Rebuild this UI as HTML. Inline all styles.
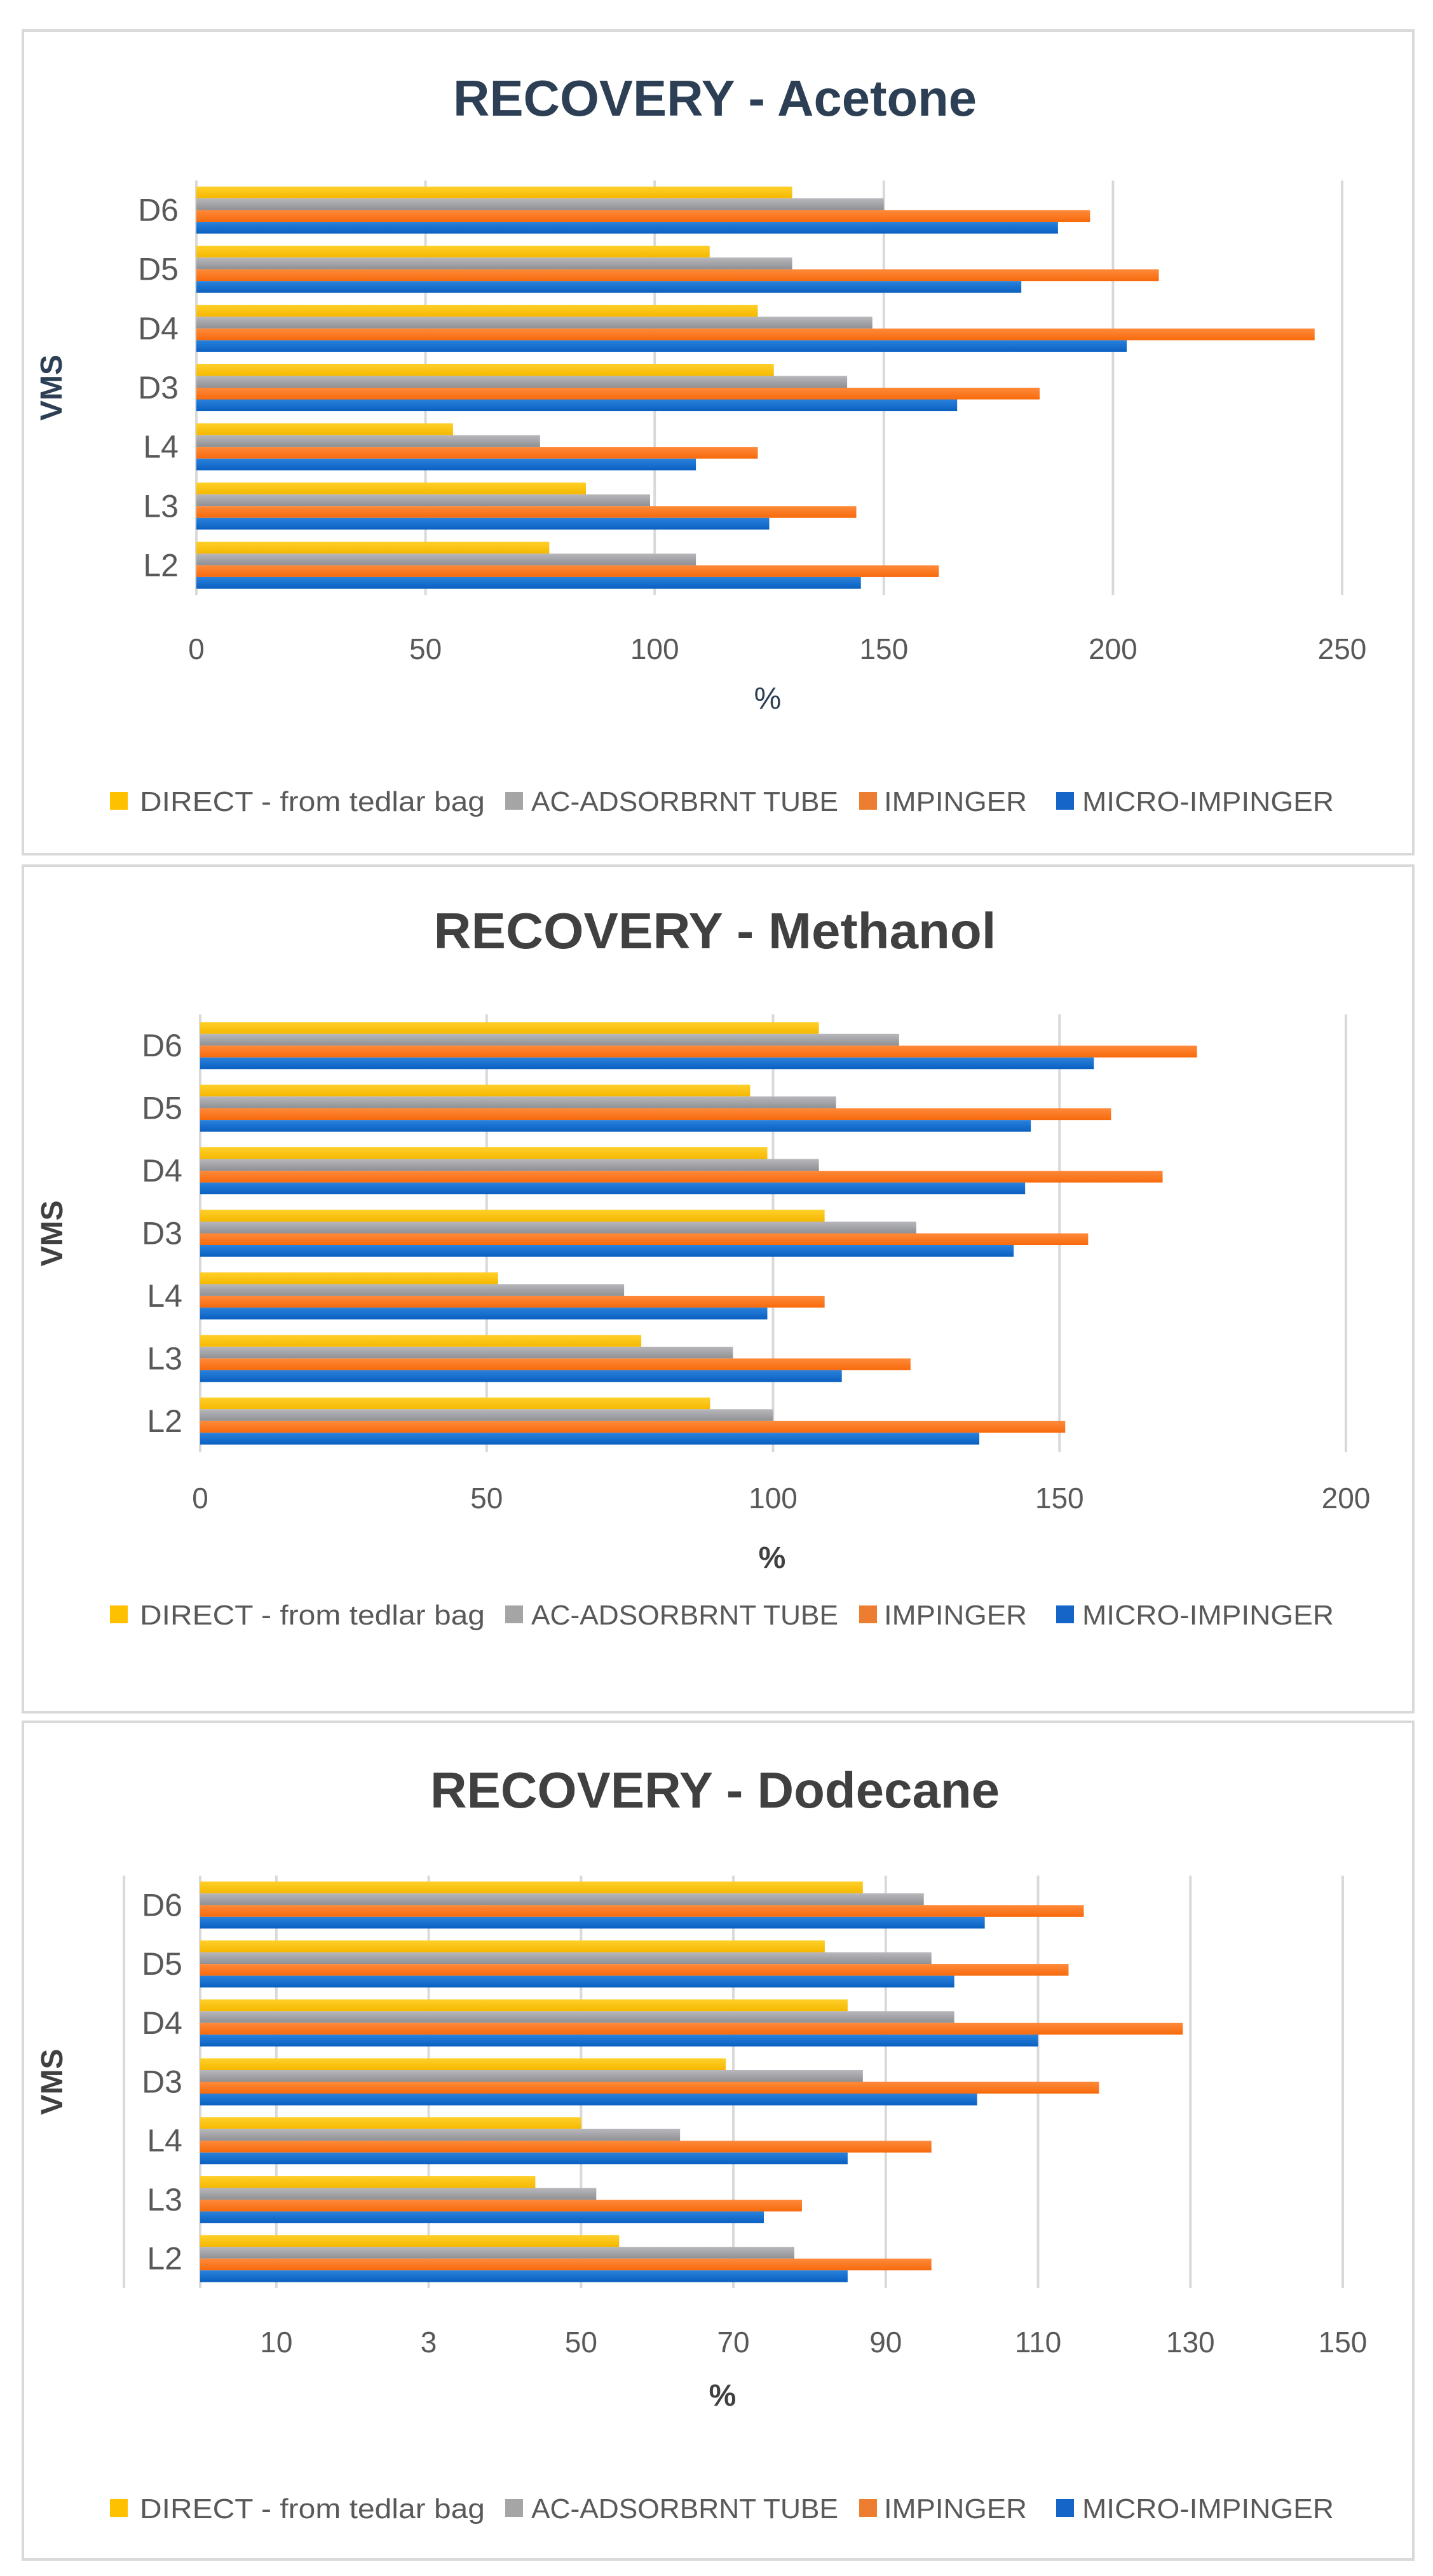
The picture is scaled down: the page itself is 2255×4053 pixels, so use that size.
<!DOCTYPE html>
<html><head><meta charset="utf-8"><style>
html,body{margin:0;padding:0;background:#fff;}
svg{display:block;}
text{font-family:"Liberation Sans Narrow","Liberation Sans",sans-serif;}
</style></head><body>
<svg id="root" width="2255" height="4053" viewBox="0 0 2255 4053">
<defs>
<linearGradient id="gY" x1="0" y1="0" x2="0" y2="1"><stop offset="0" stop-color="#FFD02A"/><stop offset="1" stop-color="#F5B800"/></linearGradient>
<linearGradient id="gG" x1="0" y1="0" x2="0" y2="1"><stop offset="0" stop-color="#B8B8BC"/><stop offset="1" stop-color="#8F9094"/></linearGradient>
<linearGradient id="gO" x1="0" y1="0" x2="0" y2="1"><stop offset="0" stop-color="#FF8A3A"/><stop offset="1" stop-color="#F76A0C"/></linearGradient>
<linearGradient id="gB" x1="0" y1="0" x2="0" y2="1"><stop offset="0" stop-color="#2A82DC"/><stop offset="1" stop-color="#0A5FC0"/></linearGradient>
</defs>
</svg>
<script>
const categories = ["D6","D5","D4","D3","L4","L3","L2"];
const seriesNames = ["DIRECT - from tedlar bag","AC-ADSORBRNT TUBE","IMPINGER","MICRO-IMPINGER"];
// Acetone
const acetoneDirect = [130,112,122.5,126,56,85,77];
const acetoneTube = [150,130,147.5,142,75,99,109];
const acetoneImpinger = [195,210,244,184,122.5,144,162];
const acetoneMicro = [188,180,203,166,109,125,145];
const acetoneTicks = [0,50,100,150,200,250];
const acetoneTickLabels = ["0","50","100","150","200","250"];
// Methanol
const methanolDirect = [108,96,99,109,52,77,89];
const methanolTube = [122,111,108,125,74,93,100];
const methanolImpinger = [174,159,168,155,109,124,151];
const methanolMicro = [156,145,144,142,99,112,136];
const methanolTicks = [0,50,100,150,200];
const methanolTickLabels = ["0","50","100","150","200"];
// Dodecane
const dodecaneDirect = [87,82,85,69,50,44,55];
const dodecaneTube = [95,96,99,87,63,52,78];
const dodecaneImpinger = [116,114,129,118,96,79,96];
const dodecaneMicro = [103,99,110,102,85,74,85];
const dodecaneTicks = [-10,0,10,30,50,70,90,110,130,150];
const dodecaneTickLabels = ["","","10","3","50","70","90","110","130","150"];

const NS = "http://www.w3.org/2000/svg";
const root = document.getElementById("root");
function mk(tag, attrs, parent){const e=document.createElementNS(NS,tag);for(const k in attrs)e.setAttribute(k,attrs[k]);(parent||root).appendChild(e);return e;}
const fills = ["url(#gY)","url(#gG)","url(#gO)","url(#gB)"];
const legendFills = ["#FFC000","#A5A5A5","#ED7D31","#1565C8"];
const seriesKeys = ["direct","tube","impinger","micro"];

function drawChart(cfg){
  const g = mk("g",{});
  
  
  const frame = mk("rect",{x:36,y:cfg.fy,width:2188,height:cfg.fh,fill:"#fff",stroke:"#d9d9d9","stroke-width":4},g);
  
  
  const title = mk("text",{x:1125,y:cfg.titleY,"text-anchor":"middle","font-size":80,"font-weight":"bold",fill:cfg.titleColor,textLength:cfg.titleW,lengthAdjust:"spacingAndGlyphs"},g);
  title.textContent = cfg.title;
  
  
  const xs = v => cfg.x0 + (v - 0) * (cfg.x1 - cfg.x0) / cfg.vmax;
  cfg.ticks.forEach((t,i)=>{
    const gl = mk("line",{x1:xs(t),x2:xs(t),y1:cfg.top,y2:cfg.bot,stroke:"#d9d9d9","stroke-width":4},g);
    
    
    if(cfg.labels[i]!==""){
      const tl = mk("text",{x:xs(t),y:cfg.tickY,"text-anchor":"middle","font-size":46,fill:"#595959"},g);
      tl.textContent = cfg.labels[i];
      
      
    }
  });
  const band = (cfg.bot - cfg.top) / categories.length;
  const barH = 18.5;
  categories.forEach((c,ci)=>{
    const bandTop = cfg.top + ci*band;
    const groupTop = bandTop + (band - 4*barH)/2;
    cfg.series.forEach((arr,si)=>{
      const r = mk("rect",{x:xs(0),y:groupTop+si*barH,width:Math.max(0,xs(arr[ci])-xs(0)),height:barH,fill:fills[si]},g);
      
      
    });
    const cl = mk("text",{x:cfg.x0-28,y:bandTop+band/2+17,"text-anchor":"end","font-size":50,fill:"#595959"},g);
    cl.textContent = c;
    
    
  });
  const yt = mk("text",{x:0,y:0,"text-anchor":"middle","font-size":48,"font-weight":"bold",fill:cfg.titleColor,transform:"translate("+(cfg.vmsX)+","+((cfg.top+cfg.bot)/2)+") rotate(-90)"},g);
  yt.textContent = "VMS";
  
  
  const xt = mk("text",{x:cfg.pctX,y:cfg.pctY,"text-anchor":"middle","font-size":48,"font-weight":cfg.pctBold?"bold":"normal",fill:cfg.pctColor},g);
  xt.textContent = "%";
  
  
  const sq = [173,795,1352,1662], tx=[220,836,1391,1703], tw=[543,483,225,396];
  seriesNames.forEach((n,i)=>{
    const s = mk("rect",{x:sq[i],y:cfg.legY-30,width:28,height:28,fill:legendFills[i]},g);
    
    
    const t = mk("text",{x:tx[i],y:cfg.legY,"font-size":44,fill:"#595959",textLength:tw[i],lengthAdjust:"spacingAndGlyphs"},g);
    t.textContent = n;
    
    
  });
}

drawChart({key:"acetone",title:"RECOVERY - Acetone",titleColor:"#2D3F55",titleW:824,fy:48,fh:1296,titleY:182,
  x0:309,x1:2112,vmax:250,top:284,bot:936,ticks:acetoneTicks,labels:acetoneTickLabels,tickY:1037,
  series:[acetoneDirect,acetoneTube,acetoneImpinger,acetoneMicro],vmsX:97,pctX:1208,pctY:1115,pctBold:false,pctColor:"#2D3F55",legY:1276});
drawChart({key:"methanol",title:"RECOVERY - Methanol",titleColor:"#404040",titleW:885,fy:1362,fh:1332,titleY:1492,
  x0:315,x1:2118,vmax:200,top:1596,bot:2285,ticks:methanolTicks,labels:methanolTickLabels,tickY:2373,
  series:[methanolDirect,methanolTube,methanolImpinger,methanolMicro],vmsX:98,pctX:1215,pctY:2467,pctBold:true,pctColor:"#404040",legY:2556});
drawChart({key:"dodecane",title:"RECOVERY - Dodecane",titleColor:"#404040",titleW:896,fy:2709,fh:1318,titleY:2844,
  x0:315,x1:2113,vmax:150,top:2951,bot:3600,ticks:dodecaneTicks,labels:dodecaneTickLabels,tickY:3701,
  series:[dodecaneDirect,dodecaneTube,dodecaneImpinger,dodecaneMicro],vmsX:98,pctX:1137,pctY:3785,pctBold:true,pctColor:"#404040",legY:3962});
</script>
</body></html>
